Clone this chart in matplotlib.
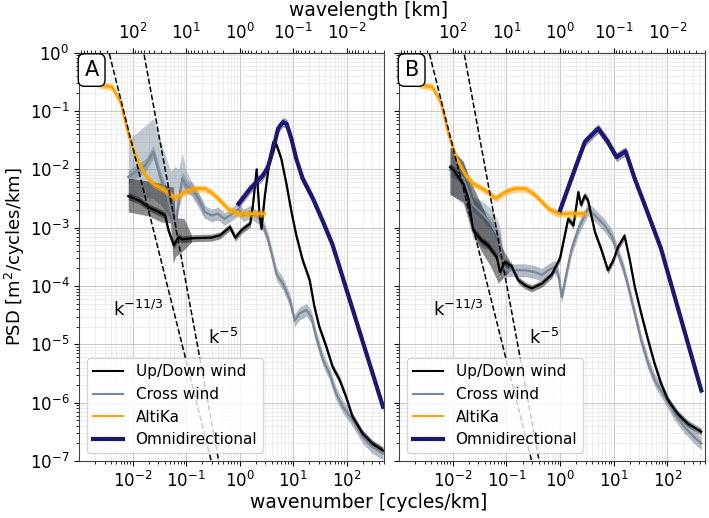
import numpy as np
import matplotlib
matplotlib.use("Agg")
import matplotlib.pyplot as plt
from matplotlib.ticker import LogLocator, NullFormatter
from matplotlib.lines import Line2D

# ---------------- data (log10 wavenumber [cycles/km], log10 PSD) ----------------
# AltiKa (same in both panels)
alti_lk = [-2.66, -2.38, -2.22, -2.07, -1.92, -1.76, -1.61, -1.45, -1.30, -1.20, -1.08,
           -0.95, -0.83, -0.65, -0.52, -0.40, -0.21, -0.03, 0.20, 0.47]
alti_lp = [-0.54, -0.59, -0.85, -1.42, -1.82, -2.10, -2.25, -2.33, -2.42, -2.50, -2.42,
           -2.36, -2.33, -2.33, -2.40, -2.50, -2.68, -2.76, -2.76, -2.76]

# Panel A
ud_a_lk = [-2.08, -1.88, -1.70, -1.51, -1.39, -1.33, -1.23, -1.14, -1.08, -0.86, -0.52, -0.36,
           -0.18, -0.08, 0.04, 0.20, 0.25, 0.32, 0.37, 0.41, 0.47, 0.57, 0.63, 0.69, 0.78, 0.88,
           0.97, 1.06, 1.18, 1.31, 1.40, 1.49, 1.62, 1.74, 1.87, 1.99, 2.11, 2.30, 2.48, 2.68]
ud_a_lp = [-2.46, -2.53, -2.65, -2.73, -2.79, -3.04, -3.30, -3.16, -3.20, -3.18, -3.17, -3.13,
           -2.99, -3.17, -3.04, -2.93, -2.61, -2.00, -2.73, -3.02, -2.47, -1.78, -1.53, -1.58,
           -1.82, -2.27, -2.73, -3.13, -3.56, -3.90, -4.36, -4.70, -5.04, -5.39, -5.61, -5.90,
           -6.24, -6.53, -6.70, -6.82]
ud_a_band_lk = [-2.08, -1.70, -1.47, -1.29, -1.24, -1.20, -1.04, -0.90]
ud_a_band_hi = [-2.15, -2.20, -2.24, -2.30, -2.30, -2.83, -2.84, -3.12]
ud_a_band_lo = [-2.73, -2.80, -2.90, -2.92, -3.61, -3.50, -3.38, -3.25]

cw_a_lk = [-2.08, -1.76, -1.61, -1.48, -1.36, -1.29, -1.20, -1.14, -1.07, -0.99, -0.89, -0.77,
           -0.65, -0.52, -0.40, -0.28, -0.18, -0.02, 0.07, 0.20, 0.38, 0.44, 0.53, 0.63, 0.69,
           0.81, 0.94, 1.03, 1.12, 1.25, 1.34, 1.43, 1.56, 1.68, 1.80, 1.93, 2.11, 2.30, 2.48, 2.68]
cw_a_lp = [-2.13, -1.93, -1.70, -2.13, -2.44, -2.70, -2.99, -2.56, -2.15, -2.29, -2.33, -2.50,
           -2.73, -2.79, -2.76, -2.85, -2.79, -2.68, -2.79, -2.73, -2.85, -2.96, -3.19, -3.56,
           -3.80, -3.96, -4.24, -4.59, -4.47, -4.41, -4.53, -4.87, -5.27, -5.50, -5.84, -6.07,
           -6.30, -6.59, -6.76, -6.87]
cw_a_band_lk = [-2.08, -1.61, -1.48, -1.29, -1.20, -1.14, -1.07, -1.00, -0.90, -0.65]
cw_a_band_hi = [-1.50, -1.13, -1.50, -2.03, -1.95, -2.00, -1.72, -2.02, -2.20, -2.60]
cw_a_band_lo = [-2.45, -2.50, -2.60, -2.84, -3.00, -2.70, -2.45, -2.40, -2.45, -2.85]

om_a_lk = [-0.02, 0.20, 0.44, 0.53, 0.63, 0.72, 0.81, 0.88, 0.97, 1.06, 1.18, 1.37, 1.56, 1.74, 2.68]
om_a_lp = [-2.59, -2.33, -2.10, -1.96, -1.65, -1.30, -1.19, -1.22, -1.48, -1.82, -2.16, -2.50,
           -2.90, -3.30, -6.07]

# Panel B
ud_b_lk = [-2.05, -1.93, -1.80, -1.71, -1.62, -1.46, -1.34, -1.25, -1.18, -1.12, -1.03, -0.91,
           -0.78, -0.65, -0.53, -0.34, -0.16, 0.00, 0.15, 0.25, 0.34, 0.39, 0.46, 0.52, 0.65,
           0.77, 0.89, 0.99, 1.08, 1.20, 1.30, 1.39, 1.51, 1.64, 1.76, 1.88, 2.01, 2.19, 2.38, 2.63]
ud_b_lp = [-1.96, -2.08, -2.25, -2.50, -3.04, -3.22, -3.30, -3.42, -3.50, -3.76, -3.59, -3.65,
           -3.90, -3.99, -4.04, -3.96, -3.81, -3.52, -2.85, -2.96, -2.39, -2.61, -2.45, -2.53,
           -3.08, -3.38, -3.73, -3.56, -3.33, -3.14, -3.56, -4.01, -4.47, -4.93, -5.33, -5.67,
           -5.96, -6.19, -6.36, -6.50]
ud_b_band_lk = [-2.05, -1.80, -1.62, -1.47, -1.30, -1.15, -1.05, -0.95]
ud_b_band_hi = [-1.61, -1.88, -2.30, -2.60, -2.95, -3.20, -3.40, -3.55]
ud_b_band_lo = [-2.43, -2.56, -3.10, -3.40, -3.65, -3.95, -3.85, -3.75]

cw_b_lk = [-2.05, -1.80, -1.62, -1.43, -1.25, -1.12, -1.07, -1.02, -0.90, -0.65, -0.47, -0.34,
           -0.22, -0.10, -0.03, 0.03, 0.12, 0.21, 0.34, 0.46, 0.52, 0.65, 0.83, 0.96, 1.08,
           1.17, 1.27, 1.39, 1.51, 1.64, 1.76, 1.95, 2.13, 2.32, 2.50, 2.63]
cw_b_lp = [-2.01, -2.15, -2.61, -2.78, -2.96, -3.21, -3.59, -3.73, -3.73, -3.73, -3.76, -3.81,
           -3.73, -3.67, -3.81, -4.19, -3.78, -3.38, -3.02, -2.79, -2.68, -2.79, -2.96, -3.14,
           -3.44, -3.67, -4.01, -4.47, -4.93, -5.33, -5.61, -5.90, -6.19, -6.42, -6.59, -6.70]
cw_b_band_lk = [-2.05, -1.80, -1.62, -1.45, -1.25, -1.13, -1.05]
cw_b_band_hi = [-1.62, -1.85, -2.46, -2.55, -2.70, -2.95, -3.40]
cw_b_band_lo = [-2.42, -2.60, -3.19, -3.35, -3.40, -3.50, -3.85]

om_b_lk = [0.00, 0.21, 0.46, 0.60, 0.71, 0.89, 1.05, 1.22, 1.39, 1.58, 1.88, 2.63]
om_b_lp = [-2.70, -2.16, -1.53, -1.40, -1.30, -1.53, -1.79, -1.69, -2.16, -2.62, -3.36, -5.79]

# reference power laws: PSD = C * k^n
ref_exponents = [-11 / 3, -5]
ref_log_amp = [-8.94, -8.95]
ref_labels = ["k$^{-11/3}$", "k$^{-5}$"]
ref_label_lk = [-1.90, -0.30]
ref_label_lp = [-4.41, -4.89]

legend_labels = ["Up/Down wind", "Cross wind", "AltiKa", "Omnidirectional"]
panel_labels = ["A", "B"]
x_ticks = [1e-2, 1e-1, 1e0, 1e1, 1e2]
wl_ticks = [1e2, 1e1, 1e0, 1e-1, 1e-2]
y_ticks = [1e-7, 1e-6, 1e-5, 1e-4, 1e-3, 1e-2, 1e-1, 1e0]

# ---------------- style ----------------
C_UD = "black"
C_CW = "lightslategray"
C_AK = "orange"
C_OM = "midnightblue"

W, H = 709, 518
fig = plt.figure(figsize=(W / 100, H / 100), dpi=100)
bottom = 1 - 461 / H
height = (461 - 52.7) / H
axA = fig.add_axes([79 / W, bottom, 305 / W, height])
axB = fig.add_axes([399 / W, bottom, 306 / W, height], sharey=axA)

def P(a):
    return 10 ** np.asarray(a, dtype=float)

def inv(x):
    x = np.asarray(x, dtype=float)
    with np.errstate(divide="ignore", invalid="ignore"):
        return 1 / np.clip(x, 1e-12, None)

panels = [
    (axA, ud_a_lk, ud_a_lp, ud_a_band_lk, ud_a_band_hi, ud_a_band_lo,
     cw_a_lk, cw_a_lp, cw_a_band_lk, cw_a_band_hi, cw_a_band_lo, om_a_lk, om_a_lp),
    (axB, ud_b_lk, ud_b_lp, ud_b_band_lk, ud_b_band_hi, ud_b_band_lo,
     cw_b_lk, cw_b_lp, cw_b_band_lk, cw_b_band_hi, cw_b_band_lo, om_b_lk, om_b_lp),
]

kref = np.logspace(-3.2, 3, 200)

for i, (ax, udk, udp, udbk, udbh, udbl, cwk, cwp, cwbk, cwbh, cwbl, omk, omp) in enumerate(panels):
    ax.set_xscale("log")
    ax.set_yscale("log")
    # bands
    ax.fill_between(P(cwbk), P(cwbl), P(cwbh), color=C_CW, alpha=0.45, lw=0, zorder=1)
    ax.fill_between(P(cwk), P(np.array(cwp) - 0.11), P(np.array(cwp) + 0.11),
                    color=C_CW, alpha=0.55, lw=0, zorder=1)
    ax.fill_between(P(udbk), P(udbl), P(udbh), color="black", alpha=0.45, lw=0, zorder=2)
    ax.fill_between(P(udk), P(np.array(udp) - 0.06), P(np.array(udp) + 0.06),
                    color="black", alpha=0.45, lw=0, zorder=2)
    ax.fill_between(P(alti_lk), P(np.array(alti_lp) - 0.06), P(np.array(alti_lp) + 0.06),
                    color=C_AK, alpha=0.5, lw=0, zorder=5)
    ax.fill_between(P(omk), P(np.array(omp) - 0.08), P(np.array(omp) + 0.08),
                    color=C_OM, alpha=0.45, lw=0, zorder=6)
    # lines
    ax.plot(P(cwk), P(cwp), color=C_CW, lw=1.6, zorder=3)
    ax.plot(P(udk), P(udp), color=C_UD, lw=1.6, zorder=4)
    ax.plot(P(alti_lk), P(alti_lp), color=C_AK, lw=2.0, zorder=5)
    ax.plot(P(omk), P(omp), color=C_OM, lw=3.0, zorder=6)
    # reference slopes
    for n, la, lab, tx, ty in zip(ref_exponents, ref_log_amp, ref_labels, ref_label_lk, ref_label_lp):
        ax.plot(kref, 10 ** la * kref ** n, "k--", lw=1.1, zorder=7)
        ax.text(10 ** tx, 10 ** ty, lab, fontsize=13, ha="center", va="center", zorder=8)

    ax.set_xlim(1e-3, 500)
    ax.set_ylim(1e-7, 1)
    ax.set_xticks(x_ticks)
    ax.set_yticks(y_ticks)
    ax.xaxis.set_minor_locator(LogLocator(base=10, subs=np.arange(2, 10), numticks=100))
    ax.xaxis.set_minor_formatter(NullFormatter())
    ax.yaxis.set_minor_locator(LogLocator(base=10, subs=np.arange(2, 10), numticks=100))
    ax.yaxis.set_minor_formatter(NullFormatter())
    ax.set_xlim(1e-3, 500)
    ax.set_ylim(1e-7, 1)
    ax.grid(True, which="major", color="#c8c8c8", lw=0.7, zorder=0)
    ax.grid(True, which="minor", color="#e6e6e6", lw=0.5, zorder=0)
    ax.set_axisbelow(True)
    ax.tick_params(labelsize=12)
    for s in ax.spines.values():
        s.set_color("#444444")

    sec = ax.secondary_xaxis("top", functions=(inv, inv))
    sec.set_xticks(wl_ticks)
    sec.xaxis.set_minor_locator(LogLocator(base=10, subs=np.arange(2, 10), numticks=100))
    sec.xaxis.set_minor_formatter(NullFormatter())
    sec.tick_params(labelsize=12)

    ax.text(0.018, 0.982, panel_labels[i], transform=ax.transAxes, fontsize=15,
            ha="left", va="top", zorder=10,
            bbox=dict(boxstyle="round,pad=0.3", fc="white", ec="black", lw=1))

    handles = [Line2D([], [], color=C_UD, lw=1.5), Line2D([], [], color=C_CW, lw=1.5),
               Line2D([], [], color=C_AK, lw=1.5), Line2D([], [], color=C_OM, lw=3)]
    leg = ax.legend(handles, legend_labels, loc="lower left", fontsize=11, framealpha=0.8)
    leg.set_zorder(20)

plt.setp(axB.get_yticklabels(), visible=False)
axA.set_ylabel("PSD [m$^2$/cycles/km]", fontsize=13, labelpad=2)
fig.text(0.52, 1 - 503 / H, "wavenumber [cycles/km]", ha="center", va="center", fontsize=13.5)
fig.text(0.52, 1 - 11 / H, "wavelength [km]", ha="center", va="center", fontsize=13.5)

fig.savefig("out.png", dpi=100)
